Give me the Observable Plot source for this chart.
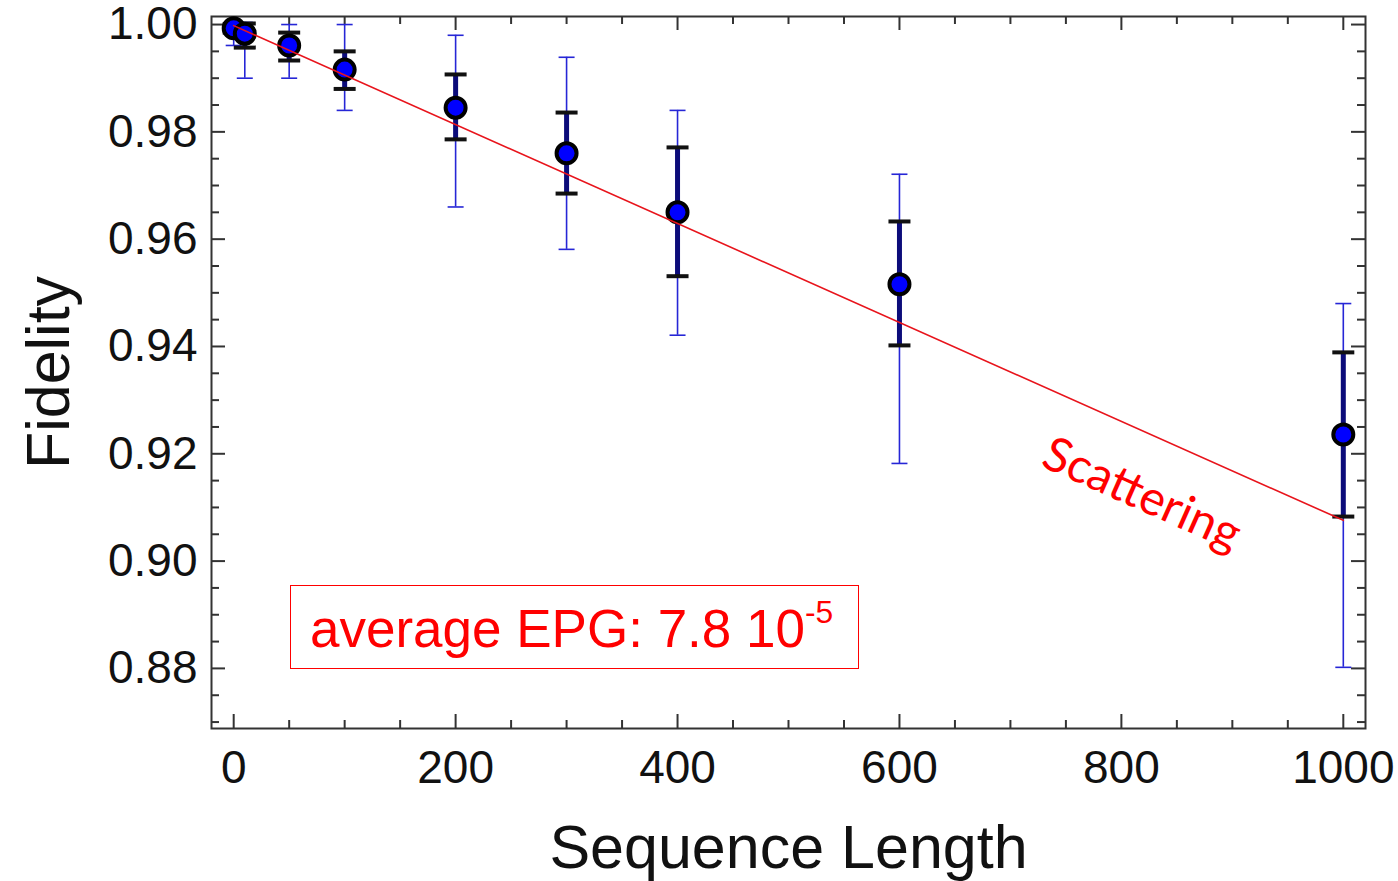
<!DOCTYPE html>
<html>
<head>
<meta charset="utf-8">
<script src="https://cdn.jsdelivr.net/npm/d3@7"></script>
<script src="https://cdn.jsdelivr.net/npm/@observablehq/plot@0.6"></script>
<style>
  body { margin: 0; background: #fff; }
  #wrap { position: relative; width: 1398px; height: 881px; overflow: hidden; background: #fff; }
  #wrap svg { position: absolute; left: 0; top: 0; }
  .epg {
    position: absolute; left: 290px; top: 585px; width: 569px; height: 84px;
    box-sizing: border-box; border: 1.5px solid #ff0000; color: #ff0000;
    font-family: "Liberation Sans", Arial, sans-serif; font-size: 53px;
    line-height: 82px; padding-left: 19px; padding-top: 2px; white-space: nowrap;
  }
  .epg .sup { font-size: 0.6em; position: relative; top: -0.75em; }
  .scat {
    position: absolute; left: 1143px; top: 492px; color: #ff0000;
    font-family: Lato, "Open Sans", sans-serif; font-size: 48px; line-height: 1;
    white-space: nowrap; transform: translate(-50%, -50%) rotate(24deg);
  }
</style>
</head>
<body>
<div id="wrap"></div>
<script>
// ---- data ----
const seqLength   = [0, 10, 50, 100, 200, 300, 400, 600, 1000];
const fidelity    = [0.9993, 0.9983, 0.9961, 0.9916, 0.9845, 0.9760, 0.9650, 0.9516, 0.9236];
const innerLow    = [0.9985, 0.9957, 0.9933, 0.9880, 0.9786, 0.9685, 0.9531, 0.9402, 0.9083];
const innerHigh   = [1.0001, 1.0002, 0.9985, 0.9950, 0.9907, 0.9836, 0.9771, 0.9633, 0.9389];
const outerLow    = [0.9961, 0.9900, 0.9900, 0.9840, 0.9660, 0.9581, 0.9421, 0.9182, 0.8802];
const outerHigh   = [1.0003, 1.0004, 1.0000, 1.0000, 0.9980, 0.9939, 0.9840, 0.9721, 0.9480];
const fitX        = [0, 1000];
const fitY        = [0.9998, 0.9076];
const xMajorTicks = [0, 200, 400, 600, 800, 1000];
const xMinorTicks = [50, 100, 150, 250, 300, 350, 450, 500, 550, 650, 700, 750, 850, 900, 950];
const yMajorTicks = [0.88, 0.90, 0.92, 0.94, 0.96, 0.98, 1.00];
const yMinorTicks = [0.870, 0.875, 0.885, 0.890, 0.895, 0.905, 0.910, 0.915, 0.925, 0.930, 0.935,
                     0.945, 0.950, 0.955, 0.965, 0.970, 0.975, 0.985, 0.990, 0.995];
const xLabel = "Sequence Length";
const yLabel = "Fidelity";

// ---- tables built from the arrays ----
const points = seqLength.map((x, i) => ({
  x, f: fidelity[i], ilo: innerLow[i], ihi: innerHigh[i], olo: outerLow[i], ohi: outerHigh[i]
}));
const fit = fitX.map((x, i) => ({x, y: fitY[i]}));

const W = 1398, H = 881;
const mL = 211, mR = 33, mT = 16, mB = 153;
const fw = W - mL - mR, fh = H - mT - mB;
const majorLen = 14, minorLen = 8;
const axisColor = "#333";

const hbar = {
  draw(context, size) {
    const r = Math.sqrt(size / Math.PI);
    context.moveTo(-r, 0);
    context.lineTo(r, 0);
  }
};

const tickStyle = {stroke: axisColor, strokeWidth: 2};

const chart = Plot.plot({
  width: W, height: H,
  marginLeft: mL, marginRight: mR, marginTop: mT, marginBottom: mB,
  style: {fontFamily: "'Liberation Sans', Arial, sans-serif", background: "white", color: "#111"},
  x: {domain: [-20, 1020]},
  y: {domain: [0.8688, 1.0015]},
  marks: [
    // inward frame ticks: bottom / top
    Plot.tickX(xMajorTicks, {x: d => d, insetTop: fh - majorLen, ...tickStyle}),
    Plot.tickX(xMinorTicks, {x: d => d, insetTop: fh - minorLen, ...tickStyle}),
    Plot.tickX(xMajorTicks, {x: d => d, insetBottom: fh - majorLen, ...tickStyle}),
    Plot.tickX(xMinorTicks, {x: d => d, insetBottom: fh - minorLen, ...tickStyle}),
    // left / right
    Plot.tickY(yMajorTicks, {y: d => d, insetRight: fw - majorLen, ...tickStyle}),
    Plot.tickY(yMinorTicks, {y: d => d, insetRight: fw - minorLen, ...tickStyle}),
    Plot.tickY(yMajorTicks, {y: d => d, insetLeft: fw - majorLen, ...tickStyle}),
    Plot.tickY(yMinorTicks, {y: d => d, insetLeft: fw - minorLen, ...tickStyle}),
    Plot.frame({stroke: axisColor, strokeWidth: 2}),
    // tick labels
    Plot.axisX({ticks: xMajorTicks, tickSize: 0, tickPadding: 22, fontSize: 46, label: null, tickFormat: d3.format("d")}),
    Plot.axisY({ticks: yMajorTicks, tickSize: 0, tickPadding: 14, fontSize: 46, label: null, tickFormat: d3.format(".2f")}),
    // axis titles
    Plot.text([xLabel], {text: d => d, frameAnchor: "bottom", textAnchor: "middle", dy: 120, fontSize: 61, lineAnchor: "middle", fill: "#111"}),
    Plot.text([yLabel], {text: d => d, frameAnchor: "left", textAnchor: "middle", dx: -162, rotate: -90, fontSize: 61, lineAnchor: "middle", fill: "#111"}),
    // outer (thin blue) error bars
    Plot.ruleX(points, {x: "x", y1: "olo", y2: "ohi", stroke: "#2626d6", strokeWidth: 1.6}),
    Plot.dot(points, {x: "x", y: "olo", symbol: hbar, r: 8, stroke: "#2626d6", strokeWidth: 1.6, fill: "none"}),
    Plot.dot(points, {x: "x", y: "ohi", symbol: hbar, r: 8, stroke: "#2626d6", strokeWidth: 1.6, fill: "none"}),
    // inner (thick navy) error bars
    Plot.ruleX(points, {x: "x", y1: "ilo", y2: "ihi", stroke: "#0c0c7a", strokeWidth: 5}),
    Plot.dot(points, {x: "x", y: "ilo", symbol: hbar, r: 11, stroke: "#111", strokeWidth: 4, fill: "none"}),
    Plot.dot(points, {x: "x", y: "ihi", symbol: hbar, r: 11, stroke: "#111", strokeWidth: 4, fill: "none"}),
    // data points
    Plot.dot(points, {x: "x", y: "f", r: 10, fill: "#0000ff", stroke: "#000", strokeWidth: 4}),
    // fit line
    Plot.line(fit, {x: "x", y: "y", stroke: "#e8141c", strokeWidth: 1.6})
  ]
});

const wrap = document.getElementById("wrap");
wrap.appendChild(chart);

const box = document.createElement("div");
box.className = "epg";
box.innerHTML = 'average EPG: 7.8 10<span class="sup">-5</span>';
wrap.appendChild(box);

const scat = document.createElement("div");
scat.className = "scat";
scat.textContent = "Scattering";
wrap.appendChild(scat);
</script>
</body>
</html>
